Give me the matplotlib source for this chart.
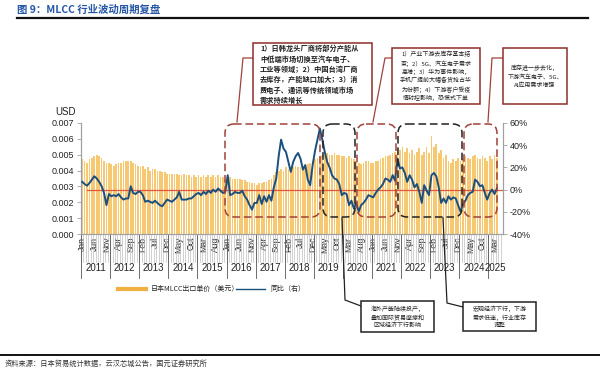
import numpy as np
import matplotlib
matplotlib.use("Agg")
import matplotlib.pyplot as plt
from matplotlib.patches import FancyBboxPatch, Rectangle
from matplotlib.lines import Line2D
from matplotlib.transforms import Affine2D, blended_transform_factory

plt.rcParams['font.family'] = ['Liberation Sans', 'Noto Sans CJK SC', 'DejaVu Sans']
CJK = ['Noto Sans CJK SC', 'DejaVu Sans']

# 日本MLCC出口单价（美元），2011-01 ~ 2025-04
price_2011_2014 = [
    0.0047, 0.0046, 0.0045, 0.0047, 0.0048, 0.0049, 0.0050, 0.0049, 0.0048, 0.0046, 0.0045, 0.0045,
    0.0044, 0.0043, 0.0044, 0.0045, 0.0045, 0.0046, 0.0046, 0.0046, 0.0046, 0.0045, 0.0044, 0.0043,
    0.0042, 0.0043, 0.0041, 0.0042, 0.0040, 0.0041, 0.0041, 0.0040, 0.0040, 0.0039, 0.0039, 0.0038,
    0.0038, 0.0038, 0.0038, 0.0038, 0.0037, 0.0037, 0.0038, 0.0037, 0.0037, 0.0036, 0.0037, 0.0036]
price_2015_2018 = [
    0.0037, 0.0036, 0.0037, 0.0036, 0.0037, 0.0036, 0.0037, 0.0036, 0.0037, 0.0036, 0.0036, 0.0035,
    0.0036, 0.0036, 0.0035, 0.0035, 0.0035, 0.0035, 0.0034, 0.0034, 0.0033, 0.0033, 0.0032, 0.0032,
    0.0031, 0.0032, 0.0032, 0.0033, 0.0033, 0.0034, 0.0035, 0.0037, 0.0039, 0.0040, 0.0041, 0.0040,
    0.0042, 0.0041, 0.0042, 0.0042, 0.0043, 0.0042, 0.0042, 0.0043, 0.0044, 0.0044, 0.0045, 0.0046]
price_2019_2022 = [
    0.0047, 0.0048, 0.0049, 0.0050, 0.0050, 0.0051, 0.0050, 0.0050, 0.0051, 0.0050, 0.0050, 0.0049,
    0.0049, 0.0048, 0.0049, 0.0048, 0.0047, 0.0046, 0.0045, 0.0044, 0.0045, 0.0046, 0.0046, 0.0045,
    0.0045, 0.0046, 0.0046, 0.0047, 0.0048, 0.0049, 0.0049, 0.0050, 0.0051, 0.0052, 0.0054, 0.0053,
    0.0055, 0.0052, 0.0054, 0.0051, 0.0053, 0.0050, 0.0052, 0.0054, 0.0050, 0.0052, 0.0055, 0.0051]
price_2023_2025 = [
    0.0062, 0.0055, 0.0057, 0.0051, 0.0053, 0.0048, 0.0050, 0.0046, 0.0045, 0.0047, 0.0046, 0.0048,
    0.0046, 0.0047, 0.0049, 0.0048, 0.0047, 0.0049, 0.0050, 0.0048, 0.0047, 0.0049, 0.0048, 0.0046,
    0.0049, 0.0047, 0.0050, 0.0048]
price = price_2011_2014 + price_2015_2018 + price_2019_2022 + price_2023_2025

# 同比（%，右轴）
yoy_2011_2014 = [
    7, 5, 3.5, 6, 9, 12, 10, 7, 3, -3, -14, -4,
    -6, -5, -6, -4, -7, -9, -8, -8, 3, -3, -4, -2,
    -2, -5, -11, -10, -11, -12, -10, -12, -14, -15, -12, -9,
    -10, -11, -9, -7, -2, -9, -9, -9, -8, -8, -6, -4]
yoy_2015_2018 = [
    -3, -5, -2, -4, -1, -3, 0, -2, 1, -1, -3, -2,
    13, -5, -4, -2, -3, -3, -1, -6, -9, -14, -18, -12,
    -12, -5, -13, -6, -11, -5, -10, 2, 10, 30, 45, 37,
    34, 25, 16, 25, 30, 33, 28, 18, 22, 9, 4, 22]
yoy_2019_2022 = [
    35, 45, 55, 45, 34, 25, 20, 13, 10, 9, 5, -5,
    -3, -4, -14, -10, -17, -12, -20, -14, -12, -9, -5, -6,
    -7, -3, 0, 2, 5, 10, 9, 7, 13, 8, 28, 19,
    20, 15, 7, 13, 9, 2, 5, -2, -12, 4, -1, -5]
yoy_2023_2025 = [
    13, 15, 12, 2, -12, -8, -12, -6, -9, -7, -8, -14,
    -20, -13, -10, -5, -3, -2, 9, 7, 3, 4, -3, -9,
    -3, 0, -4, 1]
yoy = yoy_2011_2014 + yoy_2015_2018 + yoy_2019_2022 + yoy_2023_2025

month_names = ['Jan', 'Feb', 'Mar', 'Apr', 'May', 'Jun', 'Jul', 'Aug', 'Sep', 'Oct', 'Nov', 'Dec']
years = list(range(2011, 2026))

n = len(price)
x = np.arange(n)

fig = plt.figure(figsize=(6, 3.71), dpi=100)
W, H = 600, 371
px = Affine2D().scale(1, -1).translate(0, H)  # pixel coords, origin top-left

ax = fig.add_axes([81 / W, 1 - 234 / H, 422 / W, 111 / H])
ax2 = ax.twinx()
ax.set_zorder(1)
ax2.set_zorder(2)
ax.patch.set_visible(False)

ax.bar(x, price, width=0.7, color='#F7C872', zorder=1)
ax.set_ylim(0, 0.007)
ax.set_yticks(np.arange(0, 0.0071, 0.001))
ax.set_yticklabels([f'{v:.3f}' for v in np.arange(0, 0.0071, 0.001)])
ax.set_xlim(-0.5, n + 1.5)

ax2.axhline(0, color='#E2573B', lw=0.9, xmin=0.015, zorder=1)
ax2.plot(x, yoy, color='#1B4F7E', lw=1.4, zorder=3)
ax2.set_ylim(-40, 60)
ax2.set_yticks(range(-40, 61, 20))
ax2.set_yticklabels([f'{v}%' for v in range(-40, 61, 20)])

for a in (ax, ax2):
    a.spines['top'].set_visible(False)
    for s in ('left', 'right', 'bottom'):
        a.spines[s].set_color('#A0A0A0')
        a.spines[s].set_linewidth(0.8)
    a.tick_params(axis='y', labelsize=6.5, length=3, width=0.6, color='#A0A0A0', pad=2,
                  labelcolor='#222222')

tick_pos = list(range(0, n, 5))
ax.set_xticks(tick_pos)
ax.set_xticklabels([month_names[i % 12] for i in tick_pos], rotation=90, fontsize=6.2,
                   color='#222222')
ax.tick_params(axis='x', length=0, pad=2)

# 月份分隔线与年份标签
bt = blended_transform_factory(ax.transData, fig.transFigure)
for m in range(n + 2):
    fig.add_artist(Line2D([m - 0.5, m - 0.5], [1 - 234 / H, 1 - 262 / H], transform=bt,
                          color='#B8B8B8', lw=0.45))
for i, yr in enumerate(years):
    s = i * 12
    e = min(s + 12, n + 2)
    fig.add_artist(Line2D([s - 0.5, s - 0.5], [1 - 234 / H, 1 - 278 / H], transform=bt,
                          color='#555555', lw=0.6))
    fig.text((s + e) / 2 - 0.5, 1 - 268 / H, str(yr), transform=bt, ha='center', va='center',
             fontsize=7, color='#222222')

fig.text(66 / W, 1 - 112 / H, 'USD', ha='center', va='center', fontsize=7, color='#222222')

# 标题
fig.text(17 / W, 1 - 10 / H, '图 9：MLCC 行业波动周期复盘', ha='left', va='center', fontsize=7.5,
         fontweight='bold', color='#2457A6', family=CJK)
fig.add_artist(Line2D([17, 588], [18, 18], transform=px, color='#111111', lw=1.6))

# 周期虚线框
def dash_box(x0, y0, x1, y1, color):
    fig.add_artist(FancyBboxPatch((x0, y0), x1 - x0, y1 - y0,
                                  boxstyle='round,pad=0,rounding_size=9', transform=px,
                                  fill=False, ec=color, lw=1.1, ls=(0, (5, 2.5)), zorder=5))

red = '#A0413B'
blk = '#222222'
dash_box(225, 124, 320, 217, red)
dash_box(323, 124, 355, 217, blk)
dash_box(357, 124, 396, 217, red)
dash_box(398, 124, 462, 217, blk)
dash_box(464, 124, 497, 217, red)

def link(xs, ys, color):
    fig.add_artist(Line2D(xs, ys, transform=px, color=color, lw=0.9, zorder=5))

def note(x0, y0, x1, y1, color, text, fs, bold=False, left=False):
    fig.add_artist(Rectangle((x0, y0), x1 - x0, y1 - y0, transform=px, fill=True, fc='white',
                             ec=color, lw=1.1, zorder=6))
    tx = (x0 + 7) if left else (x0 + x1) / 2
    fig.text(tx / W, 1 - ((y0 + y1) / 2) / H, text, ha='left' if left else 'center',
             va='center', fontsize=fs, family=CJK, color='#222222', linespacing=1.45, zorder=7,
             fontweight='bold' if bold else 'normal')

link([237, 243, 253], [122, 58, 58], red)
note(253, 43, 372, 105, '#8E2F2A',
     '1）日韩龙头厂商将部分产能从\n中低端市场切换至汽车电子、\n工业等领域；2）中国台湾厂商\n'
     '去库存，产能缺口加大；3）消\n费电子、通讯等传统领域市场\n需求持续增长', 5.2, bold=True,
     left=True)

link([373, 385, 392], [122, 58, 58], red)
note(392, 48, 480, 104, '#8E2F2A',
     '1）产业下游去库存基本结\n束；2）5G、汽车电子需求\n高增；3）华为事件影响，\n'
     '手机厂提前大幅备货抢占华\n为份额；4）下游客户受疫\n情封控影响，恐慌式下单', 4.3)

link([488, 492, 503], [122, 58, 58], red)
note(503, 48, 567, 104, '#8E2F2A', '库存进一步去化，\n下游汽车电子、5G、\nAI应用需求增强', 4.3)

link([342, 345, 361], [218, 300, 306], blk)
note(361, 301, 434, 332, blk, '海外产能陆续投产，\n叠加国际贸易摩擦和\n区域经济下行影响', 4.3)

link([443, 447, 463], [218, 303, 307], blk)
note(463, 302, 536, 331, blk, '宏观经济下行，下游\n需求低迷，行业库存\n调整', 4.3)

# 图例
fig.add_artist(Line2D([118, 146], [289, 289], transform=px, color='#F0B040', lw=3))
fig.text(151 / W, 1 - 289 / H, '日本MLCC出口单价（美元）', ha='left', va='center', fontsize=5,
         family=CJK, color='#222222')
fig.add_artist(Line2D([236, 265], [289, 289], transform=px, color='#1B4F7E', lw=1))
fig.text(270 / W, 1 - 289 / H, '同比（右）', ha='left', va='center', fontsize=5,
         family=CJK, color='#222222')

# 资料来源
fig.add_artist(Line2D([0, 600], [355, 355], transform=px, color='#111111', lw=1.4))
fig.text(5 / W, 1 - 364 / H, '资料来源：日本贸易统计数据，云汉芯城公告，国元证券研究所', ha='left',
         va='center', fontsize=5.2, family=CJK, color='#333333')

fig.savefig('out.png', dpi=100)
